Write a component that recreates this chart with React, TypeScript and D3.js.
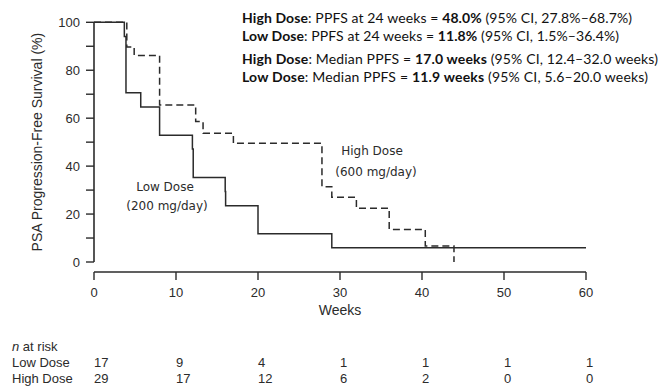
import React from "react";
import * as d3 from "d3";

// Kaplan–Meier estimates (week, % progression-free)
const lowDoseWeeks = [0, 3.7, 3.9, 5.7, 8.0, 12.0, 12.1, 16.0, 16.05, 20.0, 29.0, 60];
const lowDoseSurvival = [100, 94.1, 70.6, 64.7, 52.9, 47.1, 35.3, 29.4, 23.5, 11.8, 5.9, 5.9];
const highDoseWeeks = [0, 4.0, 4.9, 8.0, 12.4, 13.3, 17.0, 27.8, 29.0, 32.0, 36.0, 40.4, 43.9];
const highDoseSurvival = [100, 89.7, 86.2, 65.5, 58.6, 53.7, 49.5, 31.4, 27.0, 22.4, 13.6, 6.7, 0];

// Axis ticks
const xTicks = [0, 10, 20, 30, 40, 50, 60];
const yTicks = [0, 10, 20, 30, 40, 50, 60, 70, 80, 90, 100];
const yLabelTicks = [0, 20, 40, 60, 80, 100];

// Number at risk at each x tick
const riskWeeks = [0, 10, 20, 30, 40, 50, 60];
const lowDoseAtRisk = [17, 9, 4, 1, 1, 1, 1];
const highDoseAtRisk = [29, 17, 12, 6, 2, 0, 0];

const W = 660;
const H = 388;
const INK = "#2b2b2b";
const SANS = "'Liberation Sans', Arial, sans-serif";
const NOTE = "Lato, 'Open Sans', sans-serif";
const CURVE_LABEL = "'DejaVu Sans', Verdana, sans-serif";

export default function App() {
  const x = d3.scaleLinear().domain([0, 60]).range([94, 586]);
  const y = d3.scaleLinear().domain([0, 100]).range([262, 22.3]);
  const xAxisY = 272;

  const line = d3
    .line<[number, number]>()
    .x((d) => x(d[0]))
    .y((d) => y(d[1]))
    .curve(d3.curveStepAfter);

  const lowPts = lowDoseWeeks.map((t, i) => [t, lowDoseSurvival[i]] as [number, number]);
  const highPts = highDoseWeeks.map((t, i) => [t, highDoseSurvival[i]] as [number, number]);

  const notes: { bold: string; rest: string; value: string; tail: string; y: number; len: number }[] = [
    { bold: "High Dose", rest: ": PPFS at 24 weeks = ", value: "48.0%", tail: " (95% CI, 27.8%–68.7%)", y: 23.3, len: 390 },
    { bold: "Low Dose", rest: ": PPFS at 24 weeks = ", value: "11.8%", tail: " (95% CI, 1.5%–36.4%)", y: 40.7, len: 377 },
    { bold: "High Dose", rest: ": Median PPFS = ", value: "17.0 weeks", tail: " (95% CI, 12.4–32.0 weeks)", y: 64.3, len: 416 },
    { bold: "Low Dose", rest: ": Median PPFS = ", value: "11.9 weeks", tail: " (95% CI, 5.6–20.0 weeks)", y: 81.7, len: 406 },
  ];

  return (
    <svg
      width={W}
      height={H}
      viewBox={`0 0 ${W} ${H}`}
      style={{ position: "absolute", left: 0, top: 0, background: "#fff", display: "block" }}
    >
      <rect width={W} height={H} fill="#fff" />

      {/* y axis */}
      <line x1={x(0)} x2={x(0)} y1={y(0)} y2={y(100)} stroke={INK} strokeWidth={1.6} />
      {yTicks.map((t) => (
        <line key={t} x1={x(0) - 8} x2={x(0)} y1={y(t)} y2={y(t)} stroke={INK} strokeWidth={1.4} />
      ))}
      {yLabelTicks.map((t) => (
        <text key={t} x={80} y={y(t)} dy="0.35em" textAnchor="end" fontFamily={SANS} fontSize={13} fill={INK}>
          {t}
        </text>
      ))}
      <text
        transform={`translate(42, ${(y(0) + y(100)) / 2}) rotate(-90)`}
        textAnchor="middle"
        fontFamily={SANS}
        fontSize={14}
        fill={INK}
      >
        PSA Progression-Free Survival (%)
      </text>

      {/* x axis */}
      <line x1={x(0)} x2={x(60)} y1={xAxisY} y2={xAxisY} stroke={INK} strokeWidth={1.6} />
      {xTicks.map((t) => (
        <g key={t}>
          <line x1={x(t)} x2={x(t)} y1={xAxisY} y2={xAxisY + 8} stroke={INK} strokeWidth={1.4} />
          <text x={x(t)} y={292} dy="0.35em" textAnchor="middle" fontFamily={SANS} fontSize={13} fill={INK}>
            {t}
          </text>
        </g>
      ))}
      <text x={x(30)} y={315} textAnchor="middle" fontFamily={SANS} fontSize={14} fill={INK}>
        Weeks
      </text>

      {/* survival curves */}
      <path d={line(lowPts) ?? ""} fill="none" stroke={INK} strokeWidth={1.5} />
      <path d={line(highPts) ?? ""} fill="none" stroke={INK} strokeWidth={1.5} strokeDasharray="7,4" />

      {/* curve labels */}
      <text x={165} y={191} textAnchor="middle" fontFamily={CURVE_LABEL} fontSize={12} fill={INK}>
        Low Dose
      </text>
      <text x={167} y={210} textAnchor="middle" fontFamily={CURVE_LABEL} fontSize={12} fill={INK}>
        (200 mg/day)
      </text>
      <text x={372} y={155} textAnchor="middle" fontFamily={CURVE_LABEL} fontSize={12} fill={INK}>
        High Dose
      </text>
      <text x={376} y={176} textAnchor="middle" fontFamily={CURVE_LABEL} fontSize={12} fill={INK}>
        (600 mg/day)
      </text>

      {/* summary statistics */}
      {notes.map((n, i) => (
        <text
          key={i}
          x={242}
          y={n.y}
          fontFamily={NOTE}
          fontSize={14}
          fill="#111"
          textLength={n.len}
          lengthAdjust="spacing"
        >
          <tspan fontWeight="bold">{n.bold}</tspan>
          <tspan>{n.rest}</tspan>
          <tspan fontWeight="bold">{n.value}</tspan>
          <tspan>{n.tail}</tspan>
        </text>
      ))}

      {/* number at risk table */}
      <text x={12} y={350.7} fontFamily={SANS} fontSize={13} fill={INK}>
        <tspan fontStyle="italic">n</tspan> at risk
      </text>
      <text x={12} y={366.7} fontFamily={SANS} fontSize={13} fill={INK}>
        Low Dose
      </text>
      <text x={12} y={383.3} fontFamily={SANS} fontSize={13} fill={INK}>
        High Dose
      </text>
      {riskWeeks.map((t, i) => (
        <g key={t}>
          <text x={x(t)} y={366.7} fontFamily={SANS} fontSize={13} fill={INK}>
            {lowDoseAtRisk[i]}
          </text>
          <text x={x(t)} y={383.3} fontFamily={SANS} fontSize={13} fill={INK}>
            {highDoseAtRisk[i]}
          </text>
        </g>
      ))}
    </svg>
  );
}
